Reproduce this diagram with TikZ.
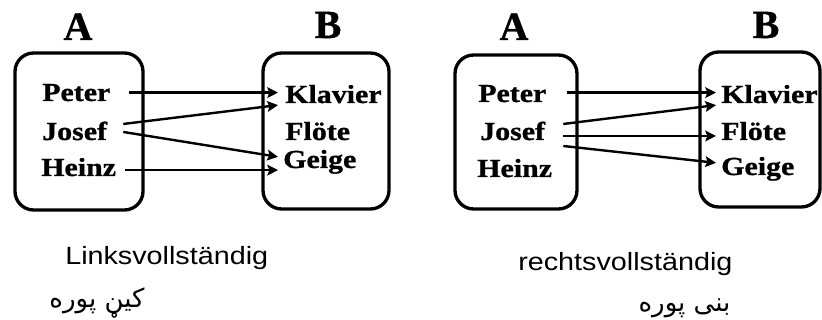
\documentclass[tikz,border=0pt]{standalone}
\usepackage{fontspec}
\setmainfont{Liberation Serif}
\newfontfamily\labfont{Liberation Serif}[UprightFont={* Bold},FakeStretch=1.15,FakeBold=1]
\newfontfamily\headfont{Liberation Serif}[UprightFont={* Bold},FakeBold=1]
\newfontfamily\capsans{Liberation Sans}[FakeStretch=1.15]
\newfontfamily\arabicfont{DejaVu Sans}[Script=Arabic]
\TeXXeTstate=1
\usetikzlibrary{arrows.meta,calc}
\begin{document}
\begin{tikzpicture}[x=0.75pt,y=-0.75pt,
  box/.style={draw,line width=2.5pt,rounded corners=14pt,inner sep=0pt},
  item/.style={inner sep=0pt,anchor=base west,font=\labfont\fontsize{19.5}{20}\selectfont},
  head/.style={inner sep=0pt,anchor=base,font=\headfont\fontsize{30}{30}\selectfont},
  captxt/.style={inner sep=0pt,anchor=base west,font=\capsans\fontsize{18.75}{20}\selectfont},
  arab/.style={inner sep=0pt,anchor=base,font=\arabicfont\fontsize{19.5}{21}\selectfont},
  arr/.style={line width=1.8pt,-{Stealth[length=8pt,width=8pt,inset=1.5pt]}}]
\useasboundingbox (0,0) rectangle (822,320);
% boxes
\node[box,minimum width=96pt,minimum height=117.75pt] (boxA1) at (79,131.5) {};
\node[box,minimum width=94.5pt,minimum height=117pt] (boxB1) at (326,131) {};
\node[box,minimum width=91.5pt,minimum height=115.5pt] (boxA2) at (516,132) {};
\node[box,minimum width=90pt,minimum height=116.25pt] (boxB2) at (760,129.5) {};
% headings
\node[head] (hA1) at (78,40) {A};
\node[head] (hB1) at (328,38) {B};
\node[head] (hA2) at (514,40) {A};
\node[head] (hB2) at (766,38) {B};
% left panel items
\node[item] (p1) at (42,101) {Peter};
\node[item] (j1) at (42,140) {Josef};
\node[item] (h1) at (41,176) {Heinz};
\node[item] (k1) at (285,103) {Klavier};
\node[item] (f1) at (285,140) {Flöte};
\node[item] (g1) at (283,168) {Geige};
% right panel items
\node[item] (p2) at (478,102) {Peter};
\node[item] (j2) at (480,140) {Josef};
\node[item] (h2) at (477,177) {Heinz};
\node[item] (k2) at (721,103) {Klavier};
\node[item] (f2) at (721,140) {Flöte};
\node[item] (g2) at (721,175) {Geige};
% left arrows
\draw[arr] ($(p1.east)+(18,0)$) -- ($(p1.east -| k1.west)+(-7,0)$);
\draw[arr] ($(j1.east)+(16,-7)$) -- ($(k1.west)+(-7,11)$);
\draw[arr] ($(j1.east)+(16,1)$) -- ($(g1.west)+(-5,-5)$);
\draw[arr] ($(h1.east)+(9,3)$) -- ($(h1.east -| g1.west)+(-5,3)$);
% right arrows
\draw[arr] ($(p2.east)+(20,-1)$) -- ($(p2.east -| k2.west)+(-5,-1)$);
\draw[arr] ($(j2.east)+(18,-7)$) -- ($(k2.west)+(-5,11)$);
\draw[arr] ($(j2.east)+(18,5)$) -- ($(j2.east -| f2.west)+(-5,5)$);
\draw[arr] ($(j2.east)+(18,15)$) -- ($(g2.west)+(-5,-6)$);
% captions
\node[captxt] (c1) at (65,265) {Linksvollständig};
\node[captxt] (c2) at (518,271) {rechtsvollständig};
\node[arab] (r1) at (97,308) {\beginR كيڼ پوره\endR};
\node[arab] (r2) at (684.5,312) {\beginR بنی پوره\endR};
\end{tikzpicture}
\end{document}
